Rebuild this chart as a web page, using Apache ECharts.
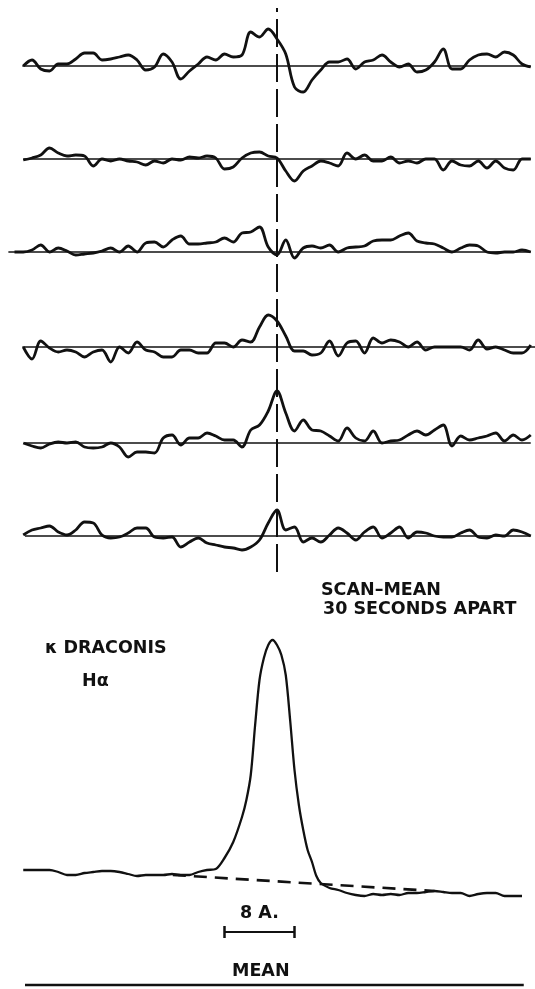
<!DOCTYPE html>
<html>
<head>
<meta charset="utf-8">
<title>kappa Draconis H-alpha scans</title>
<script src="https://cdn.jsdelivr.net/npm/echarts@6.0.0/dist/echarts.min.js"></script>
<style>
  html, body { margin: 0; padding: 0; background: #fff; }
  #chart { width: 535px; height: 989px; }
</style>
</head>
<body>
<div id="chart"></div>
<script>
// scan minus mean, sampled every 1 A from the first wavelength (A from line centre)
var scanStart = [-29, -29, -30, -29, -29, -29];
var scan1 = [0, 6, -3, -5, 2, 2, 7, 13, 13, 6, 7, 9, 11, 6, -4, -1, 12, 4, -13, -5, 2, 9, 6, 12, 9, 11, 34, 29, 37,
  27, 12, -21, -26, -14, -4, 4, 4, 7, -3, 4, 6, 11, 4, -1, 2, -6, -4, 4, 17, -3, -3, 6, 11, 12, 9, 14, 11, 2, -1];
var scan2 = [-1, 1, 4, 11, 6, 3, 4, 3, -7, 0, -2, 0, -2, -3, -6, -2, -4, 0, -1, 2, 1, 3, 1, -10, -8, 1, 6, 7, 3,
  1, -12, -22, -12, -7, -2, -4, -7, 6, 0, 4, -2, -2, 2, -4, -2, -4, 0, 0, -11, -2, -6, -7, -2, -9, -2, -9, -11, 0, 0];
var scan3 = [0, 0, 2, 7, 0, 4, 1, -3, -2, -1, 1, 4, 0, 6, 0, 9, 10, 5, 12, 16, 8, 8, 9, 10, 14, 10, 19, 20, 25, 5,
  -3, 12, -6, 4, 6, 4, 7, 0, 4, 5, 6, 11, 12, 12, 16, 19, 11, 9, 8, 4, 0, 4, 7, 6, 0, -1, 0, 0, 2, 0];
var scan4 = [0, -12, 6, -1, -5, -3, -5, -10, -5, -3, -15, 0, -6, 5, -3, -5, -10, -10, -3, -3, -6, -6, 4, 4, 0, 7, 5, 20, 32,
  26, 11, -4, -4, -8, -6, 6, -9, 4, 6, -6, 9, 4, 7, 5, 0, 5, -3, 0, 0, 0, 0, -3, 7, -2, 0, -3, -6, -6, 2];
var scan5 = [0, -3, -5, -1, 1, 0, 1, -4, -5, -4, 0, -4, -14, -9, -9, -10, 5, 8, -2, 5, 5, 10, 7, 3, 3, -4, 13, 18, 32,
  52, 30, 12, 23, 13, 12, 7, 2, 15, 5, 2, 12, 0, 2, 3, 8, 12, 8, 13, 18, -3, 7, 3, 5, 7, 10, 2, 8, 3, 8];
var scan6 = [1, 6, 8, 10, 4, 1, 6, 14, 13, 1, -2, -1, 3, 8, 8, -1, -2, -1, -11, -6, -2, -7, -9, -11, -12, -14, -11, -4, 13,
  26, 6, 9, -6, -2, -6, 1, 8, 3, -4, 4, 9, -2, 3, 9, -2, 4, 3, 0, -1, -1, 3, 6, -1, -2, 1, 0, 6, 4, 0];
var scans = [scan1, scan2, scan3, scan4, scan5, scan6];
// wavelength span of each zero line (A)
var zeroFrom = [-29.1, -29, -30.7, -29.1, -28.8, -28.8];
var zeroTo = [29, 29, 29, 29.5, 29, 29];

// mean profile: wavelength (A) and height above reference
var meanWave = [-29, -28, -27, -26, -25, -24, -23, -22, -21, -20, -19, -18, -17, -16, -15, -14, -13, -12, -11, -10,
  -9, -8, -7, -6, -5, -4, -3.5, -3, -2.5, -2, -1.5, -1, -0.5, 0, 0.5, 1, 1.5, 2, 2.5, 3, 3.5, 4, 4.5, 5,
  6, 7, 8, 9, 10, 11, 12, 13, 14, 15, 16, 17, 18, 19, 20, 21, 22, 23, 24, 25, 26, 27, 28];
var meanHeight = [30, 30, 30, 30, 28, 25, 25, 27, 28, 29, 29, 28, 26, 24, 25, 25, 25, 26, 25, 25,
  28, 30, 31, 42, 58, 83, 100, 125, 175, 220, 242, 255, 260, 255, 245, 225, 180, 130, 95, 70, 50, 38, 24, 17,
  12, 10, 7, 5, 4, 6, 5, 6, 5, 7, 7, 8, 9, 8, 7, 7, 4, 6, 7, 7, 4, 4, 4];
// drawn continuum under the emission line
var contWave = [-11.9, 18];
var contHeight = [25, 9];
// 8 A scale bar
var scaleWave = [-6, 2];

var PX_PER_A = 8.75, CENTER_X = 277, W = 535;
var xMin = -CENTER_X / PX_PER_A, xMax = (W - CENTER_X) / PX_PER_A;
var rowZero = [66, 159, 252, 347, 443, 536];
var INK = '#111';

var grids = [], xAxes = [], yAxes = [], series = [];
function addGrid(top, height, ymin, ymax) {
  var i = grids.length;
  grids.push({left: 0, width: W, top: top, height: height});
  xAxes.push({type: 'value', gridIndex: i, min: xMin, max: xMax, show: false});
  yAxes.push({type: 'value', gridIndex: i, min: ymin, max: ymax, show: false});
  return i;
}

scans.forEach(function (vals, r) {
  var g = addGrid(rowZero[r] - 60, 120, -60, 60);
  series.push({
    type: 'line', xAxisIndex: g, yAxisIndex: g, clip: false,
    data: [[zeroFrom[r], 0], [zeroTo[r], 0]],
    showSymbol: false, lineStyle: {color: INK, width: 1.6}
  });
  series.push({
    type: 'line', xAxisIndex: g, yAxisIndex: g, clip: false, smooth: 0.35,
    data: vals.map(function (v, i) { return [scanStart[r] + i, v]; }),
    showSymbol: false, lineStyle: {color: INK, width: 2.8, join: 'round'}
  });
});

// mean panel, 1 unit = 1 px, reference height 0 at y = 900
var gm = addGrid(600, 385, -85, 300);
series.push({
  type: 'line', xAxisIndex: gm, yAxisIndex: gm, clip: false, smooth: 0.3,
  data: meanWave.map(function (w, i) { return [w, meanHeight[i]]; }),
  showSymbol: false, lineStyle: {color: INK, width: 2.3}
});
series.push({
  type: 'line', xAxisIndex: gm, yAxisIndex: gm, clip: false,
  data: contWave.map(function (w, i) { return [w, contHeight[i]]; }),
  showSymbol: false, lineStyle: {color: INK, width: 2.6, type: [13, 8]}
});
series.push({
  type: 'line', xAxisIndex: gm, yAxisIndex: gm, clip: false,
  data: scaleWave.map(function (w) { return [w, -32]; }),
  showSymbol: true, symbol: 'rect', symbolSize: [2.5, 12],
  itemStyle: {color: INK}, lineStyle: {color: INK, width: 2}
});
series.push({
  type: 'line', xAxisIndex: gm, yAxisIndex: gm, clip: false,
  data: [[-28.8, -85], [28.2, -85]],
  showSymbol: false, lineStyle: {color: INK, width: 2.4}
});

// dashed line at the H-alpha centre through all scans
var gd = addGrid(8, 564, 0, 1);
series.push({
  type: 'line', xAxisIndex: gd, yAxisIndex: gd, clip: false,
  data: [[0, 0], [0, 1]],
  showSymbol: false, lineStyle: {color: INK, width: 2, type: [28, 7]}
});

var txt = {fill: INK, fontFamily: 'DejaVu Sans', fontSize: 17.5, fontWeight: 'bold', textVerticalAlign: 'middle'};
function label(text, x, y, extra) {
  return {type: 'text', left: x, top: y, style: Object.assign({text: text}, txt, extra || {})};
}

var chart = echarts.init(document.getElementById('chart'), null, {renderer: 'canvas'});
chart.setOption({
  animation: false,
  backgroundColor: '#fff',
  grid: grids, xAxis: xAxes, yAxis: yAxes,
  series: series,
  graphic: [
    label('SCAN\u2013MEAN', 321, 581),
    label('30 SECONDS APART', 323, 600),
    label('\u03ba DRACONIS', 45, 639),
    label('H\u03b1', 82, 672),
    label('8 A.', 240, 904),
    label('MEAN', 232, 962)
  ]
});
</script>
</body>
</html>
